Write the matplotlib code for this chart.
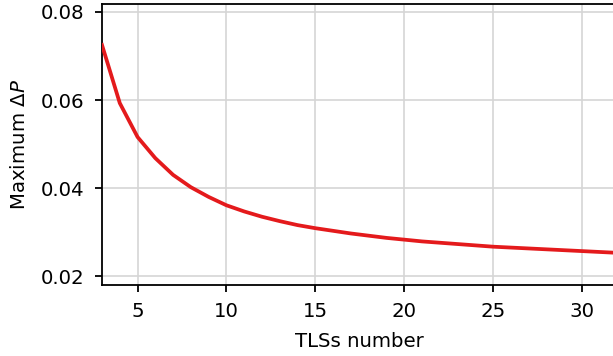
import matplotlib
matplotlib.use("Agg")
import matplotlib.pyplot as plt

# TLSs number and maximum Delta P
tls_number = list(range(3, 33))
max_delta_p = [
    0.0725, 0.0593, 0.0516, 0.0468, 0.0430, 0.0402, 0.0380, 0.0361,
    0.0347, 0.0335, 0.0325, 0.0316, 0.0309, 0.0303, 0.0297, 0.0292,
    0.0287, 0.0283, 0.0279, 0.0276, 0.0273, 0.0270, 0.0267, 0.0265,
    0.0263, 0.0261, 0.0259, 0.0257, 0.0255, 0.0253,
]
x_ticks = [5, 10, 15, 20, 25, 30]
y_ticks = [0.02, 0.04, 0.06, 0.08]

plt.rcParams["font.family"] = "DejaVu Sans"
plt.rcParams["mathtext.fontset"] = "dejavusans"

fig = plt.figure(figsize=(6.13, 3.56), dpi=100)
ax = fig.add_axes([0.1664, 0.1994, 0.841, 0.7894])

ax.plot(tls_number, max_delta_p, color="#e41a1c", linewidth=2.7, zorder=3)

ax.set_xlim(3, 32)
ax.set_ylim(0.018, 0.0818)
ax.set_xticks(x_ticks)
ax.set_yticks(y_ticks)
ax.set_yticklabels([f"{v:.2f}" for v in y_ticks])

ax.grid(True, color="#d5d5d5", linewidth=1.2)
ax.tick_params(labelsize=14.2, length=5, width=1.3)
ax.tick_params(axis="x", pad=7)
ax.tick_params(axis="y", pad=8)
for side in ax.spines.values():
    side.set_linewidth(1.3)

ax.set_xlabel("TLSs number", fontsize=14.2, labelpad=8)
ax.set_ylabel(r"Maximum $\Delta P$", fontsize=14.2, labelpad=8)

fig.savefig("out.png", dpi=100)
